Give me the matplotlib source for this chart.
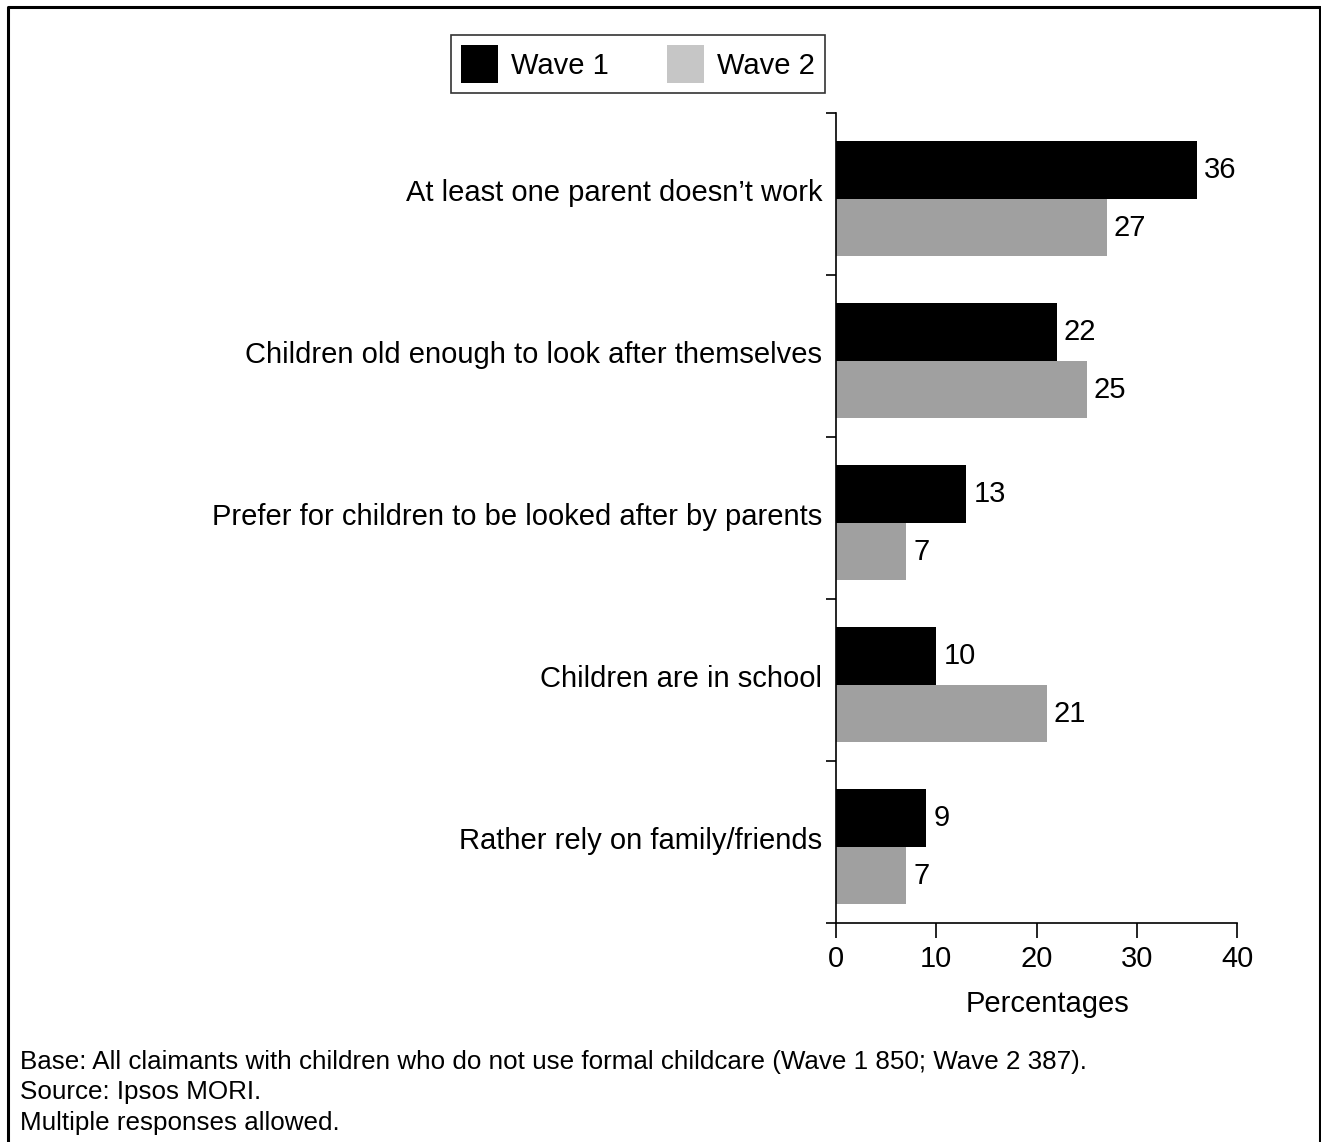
# Reasons for not using formal childcare, wave 1 vs wave 2
import matplotlib
matplotlib.use("Agg")
import matplotlib.pyplot as plt
from matplotlib.patches import Patch
from matplotlib.lines import Line2D
import numpy as np

plt.rcParams["font.family"] = ["Liberation Sans", "DejaVu Sans"]

categories = [
    "At least one parent doesn\u2019t work",
    "Children old enough to look after themselves",
    "Prefer for children to be looked after by parents",
    "Children are in school",
    "Rather rely on family/friends",
]
wave1 = [36, 22, 13, 10, 9]
wave2 = [27, 25, 7, 21, 7]
series_names = ["Wave 1", "Wave 2"]
x_ticks = [0, 10, 20, 30, 40]
notes = [
    "Base: All claimants with children who do not use formal childcare (Wave 1 850; Wave 2 387).",
    "Source: Ipsos MORI.",
    "Multiple responses allowed.",
]

W, H = 1321, 1142
fig = plt.figure(figsize=(W / 100, H / 100), dpi=100)
ax = fig.add_axes([836 / W, 1 - 923 / H, 401 / W, 810 / H])

fs = 21
bh = 0.355
shift = 0.03  # bars sit slightly below the category centre
y = np.arange(len(categories))
ax.barh(y - bh / 2 + shift, wave1, height=bh, color="black")
ax.barh(y + bh / 2 + shift, wave2, height=bh, color="#a0a0a0")

for yi, v in zip(y - bh / 2 + shift, wave1):
    ax.text(v + 0.7, yi, str(v), va="center", ha="left", fontsize=fs)
for yi, v in zip(y + bh / 2 + shift, wave2):
    ax.text(v + 0.7, yi, str(v), va="center", ha="left", fontsize=fs)

ax.set_xlim(0, 40)
ax.set_ylim(len(categories) - 0.5, -0.5)
ax.set_xticks(x_ticks)
ax.set_xticklabels([str(t) for t in x_ticks], fontsize=fs)
ax.set_yticks(np.arange(len(categories) + 1) - 0.5, minor=False)
ax.set_yticklabels([""] * (len(categories) + 1))
ax.set_yticks(y - 0.025, minor=True)
ax.set_yticklabels(categories, minor=True, fontsize=fs)
ax.tick_params(axis="y", which="major", length=7, width=1.2, direction="out")
ax.tick_params(axis="y", which="minor", length=0, pad=10)
ax.tick_params(axis="x", length=11, width=1.2, direction="out", pad=5)
ax.spines["top"].set_visible(False)
ax.spines["right"].set_visible(False)
ax.spines["left"].set_linewidth(1.2)
ax.spines["bottom"].set_linewidth(1.2)
ax.set_xlabel("Percentages", fontsize=fs)
ax.xaxis.set_label_coords(0.527, -0.083)

handles = [Patch(facecolor="black"), Patch(facecolor="#c6c6c6")]
fig.legend(handles, series_names, loc="center", bbox_to_anchor=(638 / W, 1 - 64 / H),
           ncol=2, fontsize=fs, frameon=True, fancybox=False, edgecolor="black",
           handlelength=1.25, handleheight=1.6, handletextpad=0.45,
           columnspacing=2.0, borderpad=0.35, borderaxespad=0)
fig.legends[0].get_frame().set_linewidth(1.2)

for i, line in enumerate(notes):
    fig.text(20 / W, 1 - (1062 + i * 30.5) / H, line, fontsize=18.7, va="center", ha="left")

# frame around the figure (open at the bottom)
x0, x1, yt = 7.5 / W, 1319.5 / W, 1 - 6.5 / H
fig.add_artist(Line2D([x0, x0, x1, x1], [0, yt, yt, 0], transform=fig.transFigure,
                      color="black", linewidth=2.2))

fig.savefig("out.png", dpi=100)
